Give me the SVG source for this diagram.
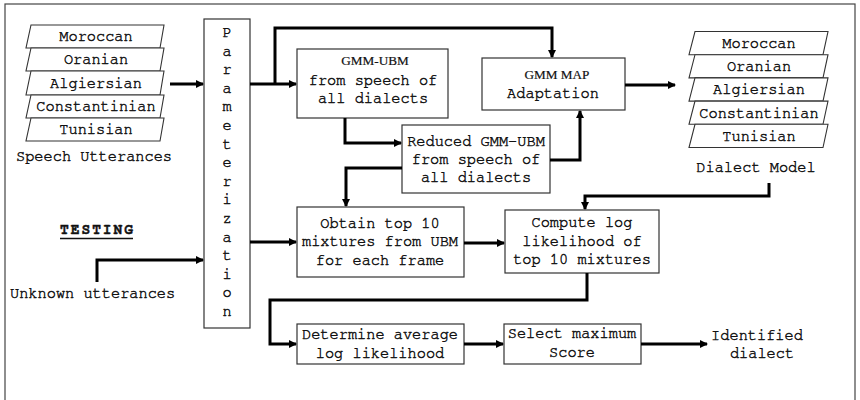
<svg xmlns="http://www.w3.org/2000/svg" width="860" height="400" viewBox="0 0 860 400">
<defs>
<marker id="ah" markerWidth="8" markerHeight="8" refX="7" refY="4" orient="auto" markerUnits="userSpaceOnUse">
<path d="M0,0 L8,4 L0,8 Z" fill="#000"/>
</marker>
<style>
text{font-family:"Nimbus Mono PS","Nimbus Mono L","FreeMono","Courier New","Liberation Mono",monospace;font-size:15.3px;fill:#111;stroke:#111;stroke-width:0.45}
.c{text-anchor:middle}
.serif{font-family:"Liberation Serif","Times New Roman",serif;font-size:13.2px;stroke-width:0.2}
.box{fill:#fff;stroke:#333;stroke-width:1.2}
.pg{fill:#fff;stroke:#333;stroke-width:1.1}
.con{fill:none;stroke:#000;stroke-width:3;stroke-linejoin:miter}
.arr{marker-end:url(#ah)}
</style>
</defs>
<rect x="0" y="0" width="860" height="400" fill="#fff"/>
<rect x="5" y="4" width="850" height="420" fill="none" stroke="#444" stroke-width="1.2"/>

<g id="speech-utterances">
<polygon class="pg" points="31,25 164,25 160,48 26,48"/>
<text class="c" x="96" y="41">Moroccan</text>
<polygon class="pg" points="31,48 164,48 160,71 26,71"/>
<text class="c" x="96" y="64">Oranian</text>
<polygon class="pg" points="31,71 164,71 160,95 26,95"/>
<text class="c" x="96" y="88">Algiersian</text>
<polygon class="pg" points="31,95 164,95 160,118 26,118"/>
<text class="c" x="96" y="111">Constantinian</text>
<polygon class="pg" points="31,118 164,118 160,141 26,141"/>
<text class="c" x="96" y="134">Tunisian</text>
<text x="16" y="161">Speech Utterances</text>
</g>

<g id="parameterization">
<rect class="box" x="204" y="19" width="46" height="309"/>
<text class="c" x="227" y="37">P</text>
<text class="c" x="227" y="55.6">a</text>
<text class="c" x="227" y="74.2">r</text>
<text class="c" x="227" y="92.8">a</text>
<text class="c" x="227" y="111.4">m</text>
<text class="c" x="227" y="130">e</text>
<text class="c" x="227" y="148.6">t</text>
<text class="c" x="227" y="167.2">e</text>
<text class="c" x="227" y="185.8">r</text>
<text class="c" x="227" y="204.4">i</text>
<text class="c" x="227" y="223">z</text>
<text class="c" x="227" y="241.6">a</text>
<text class="c" x="227" y="260.2">t</text>
<text class="c" x="227" y="278.8">i</text>
<text class="c" x="227" y="297.4">o</text>
<text class="c" x="227" y="316">n</text>
</g>

<g id="gmm-ubm">
<rect class="box" x="297" y="49" width="151" height="69"/>
<text class="c serif" x="375" y="65">GMM-UBM</text>
<text class="c" x="373" y="85">from speech of</text>
<text class="c" x="373" y="103">all dialects</text>
</g>

<g id="gmm-map">
<rect class="box" x="482" y="58" width="143" height="52"/>
<text class="c serif" x="557" y="79">GMM MAP</text>
<text class="c" x="553" y="98">Adaptation</text>
</g>

<g id="reduced-gmm-ubm">
<rect class="box" x="402" y="125" width="148" height="68"/>
<text class="c" x="476" y="146">Reduced GMM-UBM</text>
<text class="c" x="476" y="164">from speech of</text>
<text class="c" x="476" y="182">all dialects</text>
</g>

<g id="dialect-model">
<polygon class="pg" points="695,31.5 828,31.5 823,54.7 689,54.7"/>
<text class="c" x="759" y="48">Moroccan</text>
<polygon class="pg" points="695,54.7 828,54.7 823,77.9 689,77.9"/>
<text class="c" x="759" y="71">Oranian</text>
<polygon class="pg" points="695,77.9 828,77.9 823,101.1 689,101.1"/>
<text class="c" x="759" y="94">Algiersian</text>
<polygon class="pg" points="695,101.1 828,101.1 823,124.3 689,124.3"/>
<text class="c" x="759" y="118">Constantinian</text>
<polygon class="pg" points="695,124.3 828,124.3 823,147.5 689,147.5"/>
<text class="c" x="759" y="141">Tunisian</text>
<text class="c" x="756" y="172">Dialect Model</text>
</g>

<g id="testing">
<text x="60" y="234" textLength="73" lengthAdjust="spacing" style="font-weight:bold;font-size:14.5px">TESTING</text>
<line x1="60" y1="238.5" x2="133" y2="238.5" stroke="#111" stroke-width="1.6"/>
<text x="10" y="298">Unknown utterances</text>
</g>

<g id="obtain-top10">
<rect class="box" x="297" y="207" width="167" height="70"/>
<text class="c" x="380" y="228">Obtain top 10</text>
<text class="c" x="380" y="246">mixtures from UBM</text>
<text class="c" x="380" y="265">for each frame</text>
</g>

<g id="compute-loglik">
<rect class="box" x="505" y="210" width="154" height="63"/>
<text class="c" x="582" y="227">Compute log</text>
<text class="c" x="582" y="246">likelihood of</text>
<text class="c" x="582" y="264">top 10 mixtures</text>
</g>

<g id="determine-avg">
<rect class="box" x="297" y="324" width="167" height="40"/>
<text class="c" x="380" y="339">Determine average</text>
<text class="c" x="380" y="358">log likelihood</text>
</g>

<g id="select-max">
<rect class="box" x="504" y="324" width="137" height="40"/>
<text class="c" x="572" y="338">Select maximum</text>
<text class="c" x="572" y="357">Score</text>
</g>

<g id="identified">
<text class="c" x="757" y="340">Identified</text>
<text class="c" x="762" y="358">dialect</text>
</g>

<g id="connectors">
<path class="con arr" d="M170,84 H203"/>
<path class="con arr" d="M250,84 H296"/>
<path class="con arr" d="M275,84 V28 H552 V57"/>
<path class="con arr" d="M625,85 H675"/>
<path class="con arr" d="M345,118 V143 H401"/>
<path class="con arr" d="M550,160 H580 V111"/>
<path class="con arr" d="M402,168 H346 V206"/>
<path class="con arr" d="M250,242 H296"/>
<path class="con arr" d="M97,282 V260 H203"/>
<path class="con arr" d="M464,243 H504"/>
<path class="con arr" d="M769,183 V196 H585 V209"/>
<path class="con arr" d="M587,273 V300 H270 V344 H296"/>
<path class="con arr" d="M464,344 H503"/>
<path class="con arr" d="M641,344 H707"/>
</g>
</svg>
